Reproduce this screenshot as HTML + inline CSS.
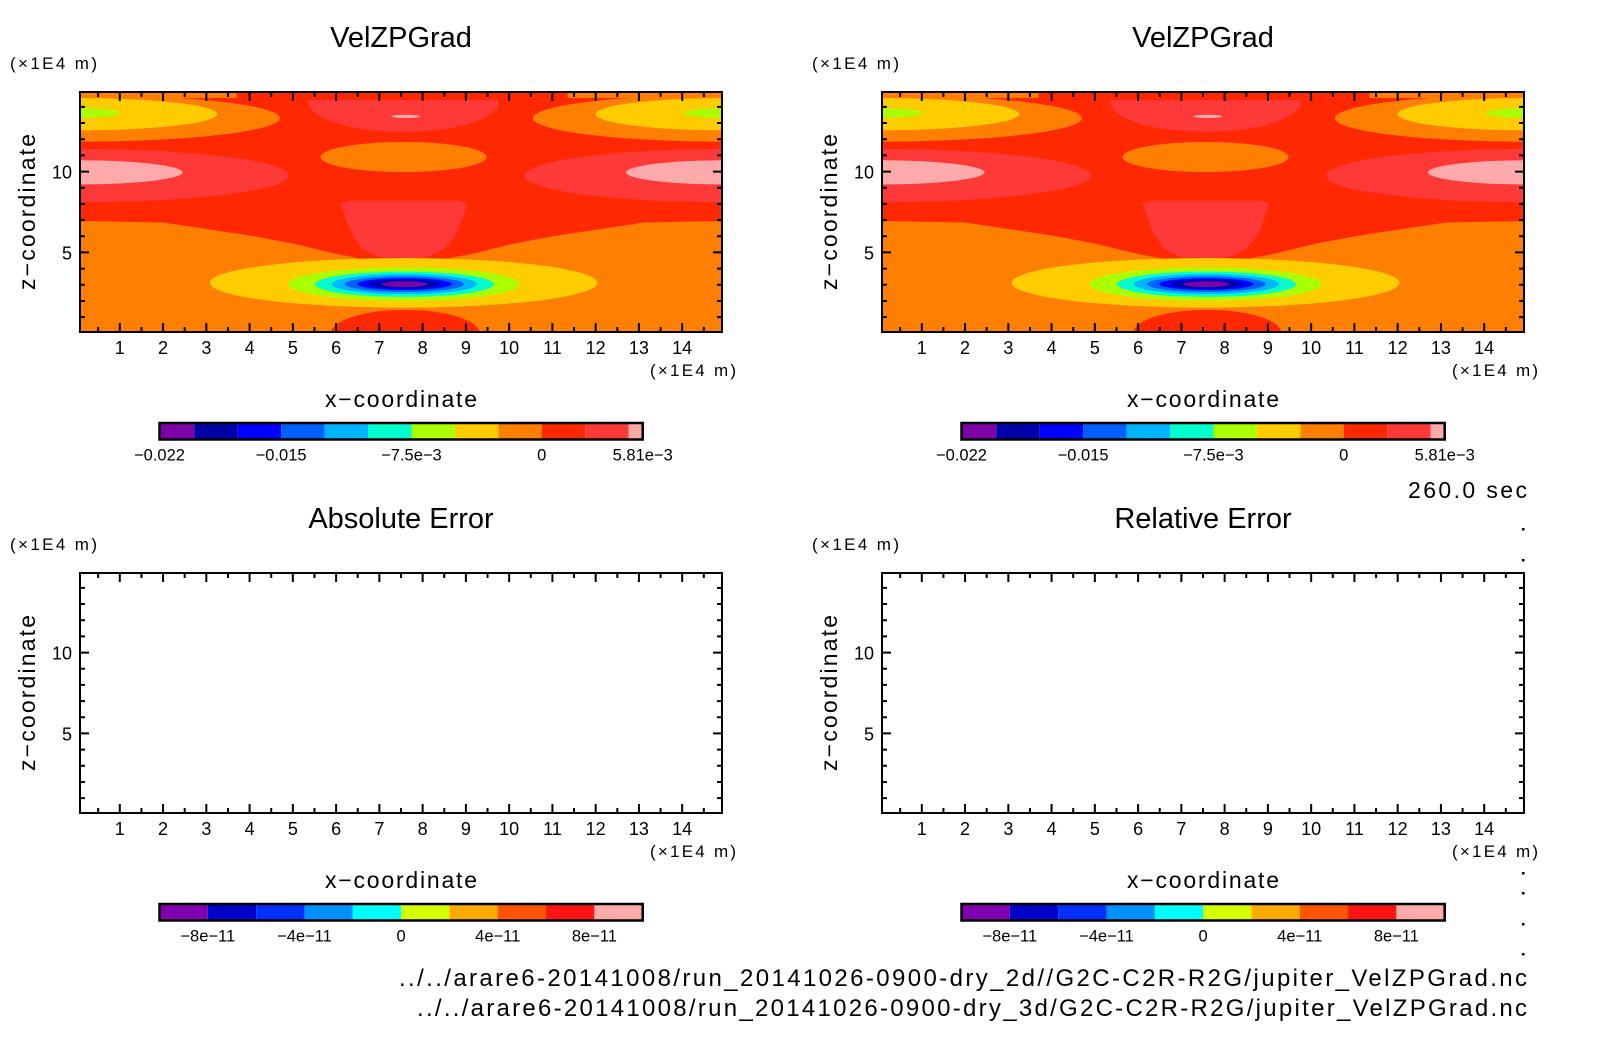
<!DOCTYPE html>
<html><head><meta charset="utf-8"><style>
html,body{margin:0;padding:0;background:#fff;}
svg text{font-family:"Liberation Sans",sans-serif;fill:#000;}
</style></head><body>
<svg id="fig" width="1604" height="1054" viewBox="0 0 1604 1054" xmlns="http://www.w3.org/2000/svg"></svg>
<script>
// ---- data ----
const topLevels=[-0.022,-0.02,-0.0175,-0.015,-0.0125,-0.01,-0.0075,-0.005,-0.0025,0,0.0025,0.005,0.00581];
const topColors=['#7E00A8','#0000A8','#0000FF','#0060FF','#00B4FF','#00FFCC','#AAFF00','#FFCC00','#FF8000','#FF2800','#FF3838','#FFAAAA'];
const topCbTicks=[-0.022,-0.015,-0.0075,0,0.00581];
const topCbLabels=['\u22120.022','\u22120.015','\u22127.5e\u22123','0','5.81e\u22123'];
const botLevels=[-1e-10,-8e-11,-6e-11,-4e-11,-2e-11,0,2e-11,4e-11,6e-11,8e-11,1e-10];
const botColors=['#8000B0','#0000C8','#0030FF','#0090FF','#00FFFF','#D4FF00','#FFAA00','#FF5500','#FF1414','#FFAAAA'];
const botCbTicks=[-8e-11,-4e-11,0,4e-11,8e-11];
const botCbLabels=['\u22128e\u221211','\u22124e\u221211','0','4e\u221211','8e\u221211'];
const xTicks=[1,2,3,4,5,6,7,8,9,10,11,12,13,14];
const zTicks=[5,10];
const rectX0=[0.08,0.08,0.0,11.35,4.0];
const rectX1=[14.92,14.92,3.7,15.0,11.1];
const rectZ0=[0.08,6.94,14.55,14.55,14.42];
const rectZ1=[14.92,14.92,15.0,15.0,15.0];
const rectVal=[-0.001,0.001,-0.001,-0.001,0.001];
const redFunnelX=[0.08,2,3,4,5,6,6.7,7.56,8.42,9.12,10.12,11.12,12.12,13.12,14.92];
const redFunnelZ=[6.94,6.85,6.45,6.05,5.55,4.9,4.55,4.45,4.55,4.9,5.55,6.05,6.45,6.85,6.94];
const lrFunnelX=[6.1,6.3,8.85,9.03,8.8,8.5,8.1,7.56,7.0,6.6,6.35];
const lrFunnelZ=[8.0,8.2,8.2,8.0,6.2,5.2,4.7,4.6,4.7,5.2,6.2];
const ellCX=[0,15,0,15,0,15,7.56,7.61,7.56,0,15,0,15,7.56,7.56,7.58,7.58,7.58,7.58,7.58,7.58,7.6];
const ellCZ=[13.3,13.3,13.55,13.55,13.62,13.62,14.3,13.41,10.9,9.75,9.75,9.95,9.95,3.12,3.04,3.03,3.04,3.04,3.04,3.04,3.04,0.0];
const ellRX=[4.7,4.45,3.25,3.0,1.0,0.95,2.2,0.33,1.92,4.9,4.65,2.45,2.3,4.48,2.68,2.07,1.68,1.37,1.09,0.82,0.53,1.72];
const ellRZ=[1.45,1.45,1.0,1.0,0.3,0.3,1.85,0.1,0.93,1.65,1.65,0.75,0.75,1.53,1.03,0.78,0.62,0.48,0.36,0.27,0.18,1.45];
const ellVal=[-0.001,-0.001,-0.004,-0.004,-0.006,-0.006,0.004,0.0054,-0.001,0.004,0.004,0.0054,0.0054,-0.004,-0.006,-0.009,-0.011,-0.014,-0.016,-0.019,-0.021,0.001];

const NS='http://www.w3.org/2000/svg';
const svg=document.getElementById('fig');
function mk(tag,attrs,parent){const e=document.createElementNS(NS,tag);for(const k in attrs)e.setAttribute(k,attrs[k]);(parent||svg).appendChild(e);return e;}
function txt(s,x,y,size,anchor,parent,extra){const t=mk('text',Object.assign({x:x,y:y,'font-size':size,'text-anchor':anchor||'middle'},extra||{}),parent);t.textContent=s;return t;}
function colorFor(v){for(let i=0;i<topColors.length;i++){if(v<topLevels[i+1])return topColors[i];}return topColors[topColors.length-1];}

const XMIN=0.08,XMAX=14.92,ZMIN=0.08,ZMAX=14.92,PW=642,PH=240;
function draw(px,py,title,field,levels,colors,cbTicks,cbLabels,idx){
  const sx=x=>px+(x-XMIN)/(XMAX-XMIN)*PW;
  const sz=z=>py+PH-(z-ZMIN)/(ZMAX-ZMIN)*PH;
  const g=mk('g',{});
  
  
  const t=txt(title,px+PW/2,py-45,29,'middle',g);
  
  
  const u=txt('(\u00d71E4 m)',px-70,py-23,17,'start',g,{textLength:87});
  
  
  if(field){
    const cid='clip'+idx;
    const cp=mk('clipPath',{id:cid},g);mk('rect',{x:px,y:py,width:PW,height:PH},cp);
    const fg=mk('g',{'clip-path':'url(#'+cid+')'},g);
    
    
    const poly=(xs,zs,v,name)=>{const p=mk('polygon',{points:xs.map((x,i)=>sx(x)+','+sz(zs[i])).join(' '),fill:colorFor(v)},fg);};
    const rect=i=>{const r=mk('rect',{x:sx(rectX0[i]),y:sz(rectZ1[i]),width:sx(rectX1[i])-sx(rectX0[i]),height:sz(rectZ0[i])-sz(rectZ1[i]),fill:colorFor(rectVal[i])},fg);};
    const ell=i=>{const e=mk('ellipse',{cx:sx(ellCX[i]),cy:sz(ellCZ[i]),rx:sx(ellRX[i])-sx(0),ry:sz(0)-sz(ellRZ[i]),fill:colorFor(ellVal[i])},fg);};
    rect(0);rect(1);
    poly(redFunnelX,redFunnelZ,0.001,'contour-funnel');
    for(let i=0;i<2;i++)ell(i);
    rect(2);rect(3);
    for(let i=2;i<7;i++)ell(i);
    rect(4);
    for(let i=7;i<13;i++)ell(i);
    poly(lrFunnelX,lrFunnelZ,0.004,'contour-core');
    for(let i=13;i<ellCX.length;i++)ell(i);
  }
  const fr=mk('rect',{x:px,y:py,width:PW,height:PH,fill:'none',stroke:'#000','stroke-width':2},g);
  
  
  let d='';
  for(let x=0.5;x<15;x+=0.5){const X=sx(x);const L=(x%1===0)?9:5;d+=`M${X},${py+PH}v${-L}M${X},${py}v${L}`;}
  for(let z=1;z<15;z+=1){const Y=sz(z);const L=(z%5===0)?9:5;d+=`M${px},${Y}h${L}M${px+PW},${Y}h${-L}`;}
  const tk=mk('path',{d:d,stroke:'#000','stroke-width':2,fill:'none'},g);
  
  
  xTicks.forEach(v=>{const l=txt(String(v),sx(v),py+PH+22,18,'middle',g);});
  zTicks.forEach(v=>{const l=txt(String(v),px-8,sz(v)+7,18,'end',g);});
  const xu=txt('(\u00d71E4 m)',px+PW+14,py+PH+44,17,'end',g,{textLength:86});
  
  
  const xl=txt('x\u2212coordinate',px+PW/2,py+PH+75,23,'middle',g,{textLength:152});
  
  
  const zl=txt('z\u2212coordinate',0,0,23,'middle',g,{textLength:156,transform:`translate(${px-45},${py+PH/2}) rotate(-90)`});
  
  
  const cx0=px+79.5,cx1=px+562.7,cy=py+331,ch=16.5;
  const lo=levels[0],hi=levels[levels.length-1];
  const cs=v=>cx0+(v-lo)/(hi-lo)*(cx1-cx0);
  const cb=mk('g',{},g);
  
  
  for(let i=0;i<colors.length;i++){const r=mk('rect',{x:cs(levels[i]),y:cy,width:cs(levels[i+1])-cs(levels[i]),height:ch,fill:colors[i]},cb);}
  mk('rect',{x:cx0,y:cy,width:cx1-cx0,height:ch,fill:'none',stroke:'#000','stroke-width':2.5},cb);
  cbTicks.forEach((v,i)=>{const l=txt(cbLabels[i],cs(v),cy+ch+21,16.5,'middle',cb);});
}
draw(80,92,'VelZPGrad',true,topLevels,topColors,topCbTicks,topCbLabels,1);
draw(882,92,'VelZPGrad',true,topLevels,topColors,topCbTicks,topCbLabels,2);
draw(80,573,'Absolute Error',false,botLevels,botColors,botCbTicks,botCbLabels,3);
draw(882,573,'Relative Error',false,botLevels,botColors,botCbTicks,botCbLabels,4);
const tm=txt('260.0 sec',1527,498,23,'end',null,{textLength:119});


const f1=txt('../../arare6-20141008/run_20141026-0900-dry_2d//G2C-C2R-R2G/jupiter_VelZPGrad.nc',1527,986,24,'end',null,{textLength:1128});


const f2=txt('../../arare6-20141008/run_20141026-0900-dry_3d/G2C-C2R-R2G/jupiter_VelZPGrad.nc',1527,1016,24,'end',null,{textLength:1110});


[528,559,872,892,923,953].forEach(y=>{const r=mk('rect',{x:1522,y:y,width:2.5,height:2.5,fill:'#000'});});
</script>
</body></html>
